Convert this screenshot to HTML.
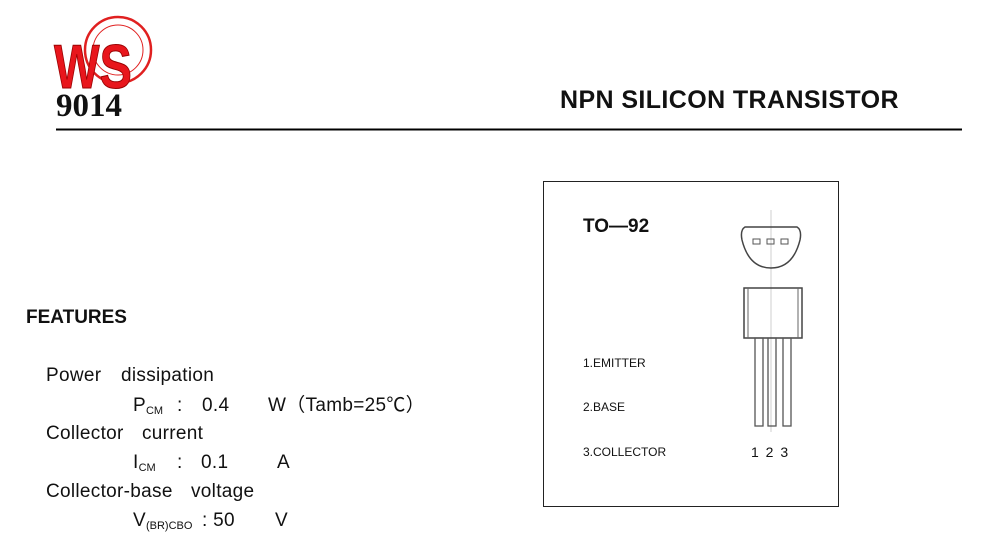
<!DOCTYPE html>
<html><head><meta charset="utf-8"><style>
html,body{margin:0;padding:0;background:#fff;}
body{width:996px;height:558px;position:relative;overflow:hidden;font-family:"Liberation Sans","Noto Sans CJK SC",sans-serif;color:#111;}
.t{position:absolute;white-space:nowrap;}
.f{font-size:19px;letter-spacing:0.3px;line-height:22px;}
sub{font-size:11px;vertical-align:-3px;letter-spacing:0;line-height:0;}
</style></head><body>
<svg width="996" height="558" style="position:absolute;left:0;top:0">
  <circle cx="118" cy="50" r="33" fill="none" stroke="#e02020" stroke-width="2.5"/>
  <circle cx="118" cy="50" r="25" fill="none" stroke="#e02020" stroke-width="1"/>
  <text x="54" y="88" font-family="Liberation Sans" font-weight="bold" font-size="62" fill="#e8161c" stroke="#900" stroke-width="1" transform="translate(54,0) scale(0.78,1) translate(-54,0)">WS</text>
  <line x1="56" y1="129.5" x2="962" y2="129.5" stroke="#000" stroke-width="2"/>
  <rect x="543.5" y="181.5" width="295" height="325" fill="none" stroke="#222" stroke-width="1"/>
  <line x1="771" y1="210" x2="771" y2="432" stroke="#bbb" stroke-width="0.7"/>
  <path d="M745 227 L797 227 Q802 230 800 240 Q793 268 771 268 Q749 268 742 240 Q740 230 745 227 Z" fill="none" stroke="#444" stroke-width="1.5"/>
  <rect x="753" y="239" width="7" height="5" fill="none" stroke="#555"/>
  <rect x="767" y="239" width="7" height="5" fill="none" stroke="#555"/>
  <rect x="781" y="239" width="7" height="5" fill="none" stroke="#555"/>
  <rect x="744" y="288" width="58" height="50" fill="none" stroke="#444" stroke-width="1.5"/>
  <line x1="748" y1="288" x2="748" y2="338" stroke="#666"/>
  <line x1="798" y1="288" x2="798" y2="338" stroke="#666"/>
  <rect x="755" y="338" width="8" height="88" fill="none" stroke="#555" stroke-width="1.3"/>
  <rect x="768" y="338" width="8" height="88" fill="none" stroke="#555" stroke-width="1.3"/>
  <rect x="783" y="338" width="8" height="88" fill="none" stroke="#555" stroke-width="1.3"/>
</svg>
<div class="t" style="left:56px;top:88px;font-family:'Liberation Serif',serif;font-weight:bold;font-size:33px;color:#111">9014</div>
<div class="t" style="left:560px;top:86px;font-weight:bold;font-size:25px;letter-spacing:0.4px;">NPN SILICON TRANSISTOR</div>
<div class="t" style="left:583px;top:216px;font-weight:bold;font-size:19px;">TO—92</div>
<div class="t" style="left:583px;top:356px;font-size:12px;">1.EMITTER</div>
<div class="t" style="left:583px;top:400px;font-size:12px;">2.BASE</div>
<div class="t" style="left:583px;top:445px;font-size:12px;">3.COLLECTOR</div>
<div class="t" style="left:751px;top:444px;font-size:14px;word-spacing:3px;">1 2 3</div>
<div class="t" style="left:26px;top:307px;font-weight:bold;font-size:19px;">FEATURES</div>
<div class="t f" style="left:46px;top:365px;">Power</div>
<div class="t f" style="left:121px;top:365px;">dissipation</div>
<div class="t f" style="left:133px;top:395px;">P<sub>CM</sub></div>
<div class="t f" style="left:177px;top:395px;">:</div>
<div class="t f" style="left:202px;top:395px;">0.4</div>
<div class="t f" style="left:268px;top:395px;">W（Tamb=25℃）</div>
<div class="t f" style="left:46px;top:423px;">Collector</div>
<div class="t f" style="left:142px;top:423px;">current</div>
<div class="t f" style="left:133px;top:452px;">I<sub>CM</sub></div>
<div class="t f" style="left:177px;top:452px;">:</div>
<div class="t f" style="left:201px;top:452px;">0.1</div>
<div class="t f" style="left:277px;top:452px;">A</div>
<div class="t f" style="left:46px;top:481px;">Collector-base</div>
<div class="t f" style="left:191px;top:481px;">voltage</div>
<div class="t f" style="left:133px;top:510px;">V<sub>(BR)CBO</sub></div>
<div class="t f" style="left:202px;top:510px;">: 50</div>
<div class="t f" style="left:275px;top:510px;">V</div>
</body></html>
